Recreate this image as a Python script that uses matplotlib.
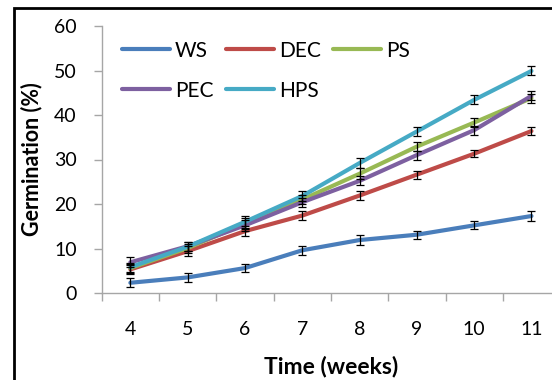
import matplotlib
matplotlib.use('Agg')
import matplotlib.pyplot as plt
import matplotlib.patches as patches
import numpy as np

weeks = [4, 5, 6, 7, 8, 9, 10, 11]
ws = [2.3, 3.5, 5.6, 9.6, 11.9, 13.1, 15.2, 17.3]
dec = [5.3, 9.4, 13.9, 17.4, 21.9, 26.6, 31.3, 36.4]
ps = [5.6, 10.1, 15.6, 21.0, 26.8, 32.9, 38.3, 43.8]
pec = [6.9, 10.5, 15.2, 20.4, 25.2, 31.0, 36.6, 44.3]
hps = [5.8, 10.4, 16.0, 21.8, 29.2, 36.3, 43.4, 49.9]
err_ws = [1.0, 1.0, 0.9, 1.0, 1.1, 0.9, 0.9, 1.1]
err_dec = [1.0, 1.1, 1.1, 1.0, 1.0, 0.9, 0.8, 0.9]
err_ps = [1.0, 1.0, 1.2, 1.1, 1.2, 1.0, 1.1, 1.0]
err_pec = [1.1, 1.0, 1.2, 1.0, 1.0, 1.0, 1.0, 1.0]
err_hps = [1.0, 1.0, 1.3, 1.1, 1.2, 1.1, 1.0, 1.0]

names = ['WS', 'DEC', 'PS', 'PEC', 'HPS']
series = [ws, dec, ps, pec, hps]
errs = [err_ws, err_dec, err_ps, err_pec, err_hps]
colors = ['#4A7EBB', '#BE4B48', '#98B954', '#7D60A0', '#46AAC5']

plt.rcParams['font.family'] = ['Lato', 'DejaVu Sans']

W, H = 552, 380
fig = plt.figure(figsize=(W / 100, H / 100), dpi=100)
ax = fig.add_axes([101.7 / W, 1 - 293 / H, 458.4 / W, 267 / H])

lines = {}
for name, y, e, c in zip(names, series, errs, colors):
    ln, = ax.plot(weeks, y, color=c, lw=3.0, solid_capstyle='round', label=name, zorder=2)
    ax.errorbar(weeks, y, yerr=e, fmt='none', ecolor='black', elinewidth=0.9,
                capsize=3.2, capthick=0.9, zorder=3)
    lines[name] = ln

ax.set_xlim(3.5, 11.5)
ax.set_ylim(0, 60)
ax.set_yticks(np.arange(0, 61, 10))
ax.set_xticks(np.arange(3.5, 11.6, 1))
ax.set_xticklabels([])
ax.set_xticks(weeks, minor=True)
ax.set_xticklabels([str(w) for w in weeks], minor=True)
ax.tick_params(axis='x', which='major', direction='out', length=6, width=1, color='#A6A6A6')
ax.tick_params(axis='x', which='minor', length=0, pad=20, labelsize=14)
ax.tick_params(axis='y', direction='out', length=6, width=1, color='#A6A6A6', pad=12, labelsize=14)

for s in ['top', 'right']:
    ax.spines[s].set_visible(False)
for s in ['left', 'bottom']:
    ax.spines[s].set_color('#A6A6A6')
    ax.spines[s].set_linewidth(1)

ax.set_ylabel('Germination (%)', fontsize=15.5, fontweight='bold', labelpad=8)
ax.set_xlabel('Time (weeks)', fontsize=16.5, fontweight='bold', labelpad=13)

order = ['WS', 'PEC', 'DEC', 'HPS', 'PS']
leg = ax.legend([lines[n] for n in order], order, ncol=3, loc='upper left',
                bbox_to_anchor=(0.003, 1.015), frameon=False, fontsize=15,
                handlelength=2.3, handletextpad=0.25, columnspacing=0.6,
                labelspacing=0.95)

fig.patches.append(patches.Rectangle((14 / W, -0.1), 1.2, 1 - 8 / H + 0.1,
                                     transform=fig.transFigure, fill=False,
                                     edgecolor='black', lw=2.0))

fig.savefig('out.png', dpi=100)
